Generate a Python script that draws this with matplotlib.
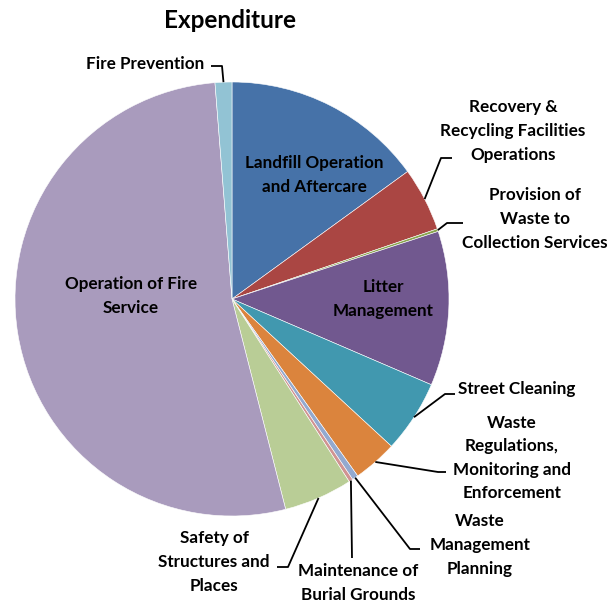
import numpy as np
import matplotlib.pyplot as plt

# expenditure shares (%), clockwise from 12 o'clock
categories = [
    'Landfill Operation\nand Aftercare',
    'Recovery &\nRecycling Facilities\nOperations',
    'Provision of\nWaste to\nCollection Services',
    'Litter\nManagement',
    'Street Cleaning',
    'Waste\nRegulations,\nMonitoring and\nEnforcement',
    'Waste\nManagement\nPlanning',
    'Maintenance of\nBurial Grounds',
    'Safety of\nStructures and\nPlaces',
    'Operation of Fire\nService',
    'Fire Prevention',
]
values = [15.0, 4.75, 0.2, 11.5, 5.4, 3.3, 0.45, 0.3, 5.1, 52.7, 1.25]
colors = ['#4672A8', '#AA4643', '#89A54E', '#71588F', '#4198AF', '#DB843D',
          '#93A9CF', '#D19392', '#B9CD96', '#A99BBD', '#92C3D4']

plt.rcParams['font.family'] = ['Lato', 'DejaVu Sans']

fig = plt.figure(figsize=(6.14, 6.03), dpi=100)
ax = fig.add_axes([0, 0, 1, 1])

cx, cy, r = 232, 299, 217
# y axis is inverted below, so counterclock=True turns clockwise on screen
wedges, _ = ax.pie(values, colors=colors, startangle=-90, counterclock=True,
                   center=(cx, cy), radius=r, frame=True,
                   wedgeprops=dict(edgecolor='white', linewidth=0.4))
ax.set_xlim(0, 614)
ax.set_ylim(603, 0)   # pixel-like coords, y downwards
ax.set_aspect('equal')
ax.axis('off')

fs = 12.3
ls = 1.58

def edge_point(i):
    w = wedges[i]
    a = np.deg2rad((w.theta1 + w.theta2) / 2)
    return cx + r * np.cos(a), cy + r * np.sin(a)

# labels inside the pie
inside = {0: (314, 175), 3: (383, 299), 9: (131, 296)}
for i, (x, y) in inside.items():
    ax.text(x, y, categories[i], ha='center', va='center', fontsize=fs,
            fontweight='bold', linespacing=ls)

# outside labels: text position, alignment, leader elbow points
outside = {
    10: ((204, 64), 'right', [(211, 66), (222, 66)]),
    1: ((513, 131), 'center', [(452, 158), (441, 158)]),
    2: ((608, 219), 'right', [(463, 223), (447, 223)]),
    4: ((458, 389), 'left', [(455, 394), (445, 394)]),
    5: ((512, 458), 'center', [(446, 472), (438, 472)]),
    6: ((480, 545), 'center', [(420, 549), (410, 549)]),
    7: ((358, 583), 'center', [(352, 558)]),
    8: ((214, 562), 'center', [(277, 567), (288, 567)]),
}
for i, ((x, y), ha, pts) in outside.items():
    ax.text(x, y, categories[i], ha=ha, va='center', fontsize=fs,
            fontweight='bold', linespacing=ls, multialignment='center')
    ex, ey = edge_point(i)
    xs = [p[0] for p in pts] + [ex]
    ys = [p[1] for p in pts] + [ey]
    ax.plot(xs, ys, color='black', linewidth=1.3, solid_capstyle='butt')

ax.text(230, 20, 'Expenditure', ha='center', va='center', fontsize=17.5,
        fontweight='bold')

fig.savefig('out.png', dpi=100)
